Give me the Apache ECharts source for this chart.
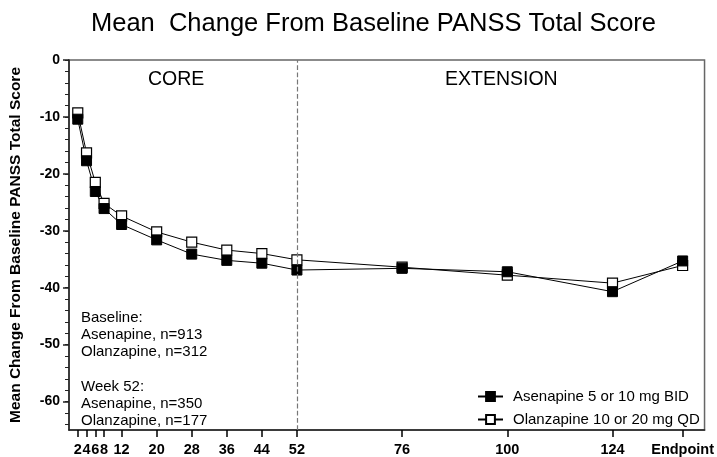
<!DOCTYPE html>
<html>
<head>
<meta charset="utf-8">
<script src="https://cdn.jsdelivr.net/npm/echarts@6/dist/echarts.min.js"></script>
<style>html,body{margin:0;padding:0;background:#fff}#c{width:717px;height:457px}</style>
</head>
<body>
<div id="c"></div>
<script>
var weeks = [2, 4, 6, 8, 12, 20, 28, 36, 44, 52, 76, 100, 124, 140];
var xTickLabels = ['2', '4', '6', '8', '12', '20', '28', '36', '44', '52', '76', '100', '124', 'Endpoint'];
var asenapine = [-10.4, -17.7, -23.1, -26.1, -28.9, -31.6, -34.1, -35.2, -35.7, -36.9, -36.6, -37.2, -40.7, -35.3];
var olanzapine = [-9.3, -16.3, -21.5, -25.2, -27.4, -30.2, -32.0, -33.4, -34.0, -35.1, -36.4, -37.8, -39.2, -36.1];
var yMajorTicks = [0, -10, -20, -30, -40, -50, -60];
var yMinorTicks = [0, -2, -4, -6, -8, -10, -12, -14, -16, -18, -20, -22, -24, -26, -28, -30, -32, -34, -36, -38, -40, -42, -44, -46, -48, -50, -52, -54, -56, -58, -60, -62, -64];
var seriesNames = ['Asenapine 5 or 10 mg BID', 'Olanzapine 10 or 20 mg QD'];
var noteLines = ['Baseline:', 'Asenapine, n=913', 'Olanzapine, n=312', '', 'Week 52:', 'Asenapine, n=350', 'Olanzapine, n=177'];

var FONT = '"Liberation Sans", Arial, sans-serif';
function pairs(xs, ys) { return xs.map(function (x, i) { return [x, ys[i]]; }); }

var chart = echarts.init(document.getElementById('c'), null, { renderer: 'canvas' });
chart.setOption({
  animation: false,
  backgroundColor: '#fff',
  title: {
    text: 'Mean  Change From Baseline PANSS Total Score',
    left: 86, top: 6,
    textStyle: { fontFamily: FONT, fontSize: 25.5, fontWeight: 'normal', color: '#000' }
  },
  grid: { left: 68, right: 11, top: 60, bottom: 27, show: true, borderColor: '#666', borderWidth: 1.5 },
  legend: {
    data: seriesNames,
    orient: 'vertical', left: 472, top: 384,
    itemWidth: 25, itemHeight: 11, itemGap: 8,
    textStyle: { fontFamily: FONT, fontSize: 15, color: '#000', padding: [0, 0, 0, 5] }
  },
  graphic: [
    { type: 'text', left: 148, top: 69.5, style: { text: 'CORE', font: '19.5px ' + FONT, fill: '#000' } },
    { type: 'text', left: 445, top: 69.5, style: { text: 'EXTENSION', font: '19.5px ' + FONT, fill: '#000' } },
    { type: 'text', left: 81, top: 309, style: { text: noteLines.join('\n'), font: '15px ' + FONT, fill: '#000', lineHeight: 17.2 } }
  ],
  xAxis: {
    type: 'value', min: 0, max: 145,
    splitLine: { show: false },
    axisLine: { onZero: false, lineStyle: { color: '#222', width: 1.5 } },
    axisTick: { show: true, customValues: weeks, length: 7, lineStyle: { color: '#000', width: 1.5 } },
    axisLabel: {
      customValues: weeks, margin: 12,
      fontFamily: FONT, fontSize: 14.5, fontWeight: 'bold', color: '#000',
      formatter: function (v) { var i = weeks.indexOf(v); return i >= 0 ? xTickLabels[i] : ''; }
    }
  },
  yAxis: [{
    type: 'value', min: -65, max: 0,
    name: 'Mean Change From Baseline PANSS Total Score',
    nameLocation: 'middle', nameGap: 45, nameRotate: 90,
    nameTextStyle: { fontFamily: FONT, fontSize: 15.5, fontWeight: 'bold', color: '#000' },
    splitLine: { show: false },
    axisLine: { onZero: false, lineStyle: { color: '#222', width: 1.5 } },
    axisTick: { customValues: yMajorTicks, length: 6, lineStyle: { color: '#222', width: 1.5 } },
    axisLabel: { customValues: yMajorTicks, margin: 9, fontFamily: FONT, fontSize: 14, fontWeight: 'bold', color: '#000' }
  }, {
    type: 'value', min: -65, max: 0, position: 'left', offset: 0,
    splitLine: { show: false },
    axisLine: { show: false, onZero: false },
    axisTick: { customValues: yMinorTicks, length: 4, lineStyle: { color: '#222', width: 1 } },
    axisLabel: { show: false }
  }],
  series: [{
    name: seriesNames[1], type: 'line', data: pairs(weeks, olanzapine),
    symbol: 'rect', symbolSize: 10,
    lineStyle: { color: '#000', width: 1 },
    itemStyle: { color: '#fff', borderColor: '#000', borderWidth: 1.2 },
    markLine: {
      silent: true, symbol: 'none', label: { show: false },
      lineStyle: { color: '#777', type: 'dashed', width: 1.2 },
      data: [{ xAxis: 52 }]
    }
  }, {
    name: seriesNames[0], type: 'line', data: pairs(weeks, asenapine),
    symbol: 'rect', symbolSize: 10,
    lineStyle: { color: '#000', width: 1 },
    itemStyle: { color: '#000', borderColor: '#000', borderWidth: 1 }
  }]
});
</script>
</body>
</html>
